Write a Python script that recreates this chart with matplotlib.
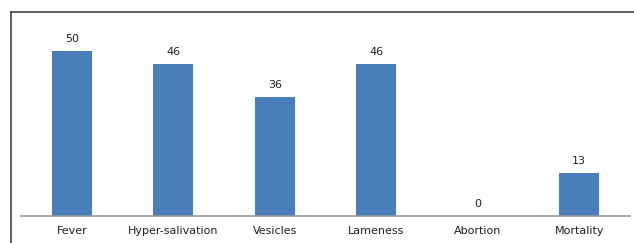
import matplotlib.pyplot as plt
from matplotlib.lines import Line2D

categories = ['Fever', 'Hyper-salivation', 'Vesicles', 'Lameness', 'Abortion', 'Mortality']
values = [50, 46, 36, 46, 0, 13]

fig = plt.figure(figsize=(6.34, 2.43), dpi=100)
ax = fig.add_axes([21 / 634, 27 / 243, 609 / 634, 204 / 243])

x = range(len(categories))
bars = ax.bar(x, values, width=0.39, color='#4a7ebb')

for xi, v in zip(x, values):
    ax.text(xi, v + 2.2, str(v), ha='center', va='bottom', fontsize=8, color='#222222')

ax.set_xlim(-0.5, len(categories) - 0.5)
ax.set_ylim(0, 61.8)
ax.set_xticks(list(x))
ax.set_xticklabels(categories, fontsize=8, color='#222222')
ax.tick_params(axis='x', length=0, pad=7)
ax.set_yticks([])
for s in ['top', 'right', 'left']:
    ax.spines[s].set_visible(False)
ax.spines['bottom'].set_color('#999999')
ax.spines['bottom'].set_linewidth(1.2)

# outer chart border (top and left edges visible in the crop)
fig.add_artist(Line2D([11 / 634, 1], [1 - 12 / 243, 1 - 12 / 243], color='#444444', lw=1.2))
fig.add_artist(Line2D([11 / 634, 11 / 634], [0, 1 - 12 / 243], color='#444444', lw=1.2))

fig.savefig('out.png', dpi=100)
